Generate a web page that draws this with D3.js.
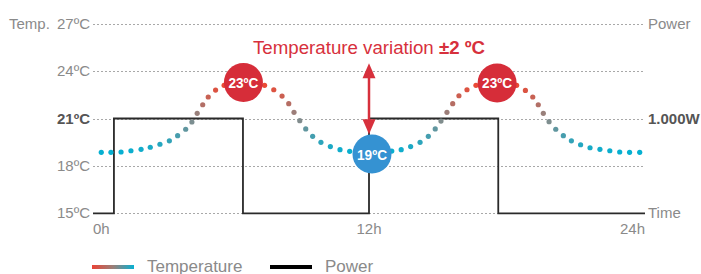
<!DOCTYPE html>
<meta charset="utf-8" />
<script src="https://d3js.org/d3.v7.js"></script>
<style>
	body { margin: 0; background: #fff; }
	svg { font-family: "Liberation Sans", Arial, sans-serif; display: block; }
</style>
<div id="chart"></div>
<script>
	// temperature dots (hour, ºC)
	const dotHours = [0.36, 0.78, 1.22, 1.65, 2.09, 2.49, 2.91, 3.32, 3.68, 4.03, 4.30, 4.53, 4.77, 5.01, 5.33, 5.70,
		7.46, 7.86, 8.22, 8.51, 8.74, 8.99, 9.25, 9.55, 9.91, 10.32, 10.74, 11.16,
		12.99, 13.40, 13.81, 14.22, 14.58, 14.88, 15.13, 15.39, 15.64, 15.91, 16.26, 16.65,
		18.42, 18.80, 19.12, 19.36, 19.58, 19.83, 20.12, 20.45, 20.80, 21.20, 21.61, 22.04, 22.47, 22.90, 23.33, 23.77];
	const dotTemps = [18.86, 18.86, 18.88, 18.96, 19.05, 19.18, 19.37, 19.59, 19.91, 20.32, 20.78, 21.33, 21.87, 22.36, 22.80, 23.10,
		23.10, 22.82, 22.42, 21.94, 21.39, 20.86, 20.34, 19.87, 19.49, 19.22, 19.03, 18.92,
		18.94, 19.03, 19.22, 19.49, 19.87, 20.34, 20.84, 21.39, 21.94, 22.44, 22.82, 23.10,
		23.10, 22.78, 22.36, 21.87, 21.33, 20.80, 20.32, 19.91, 19.59, 19.34, 19.15, 19.05, 18.96, 18.88, 18.86, 18.86];

	// power step line
	const powerHours = [0, 0.91, 6.52, 12, 17.62, 24];
	const powerWatts = [0, 1000, 0, 1000, 0, 0];

	// badges
	const badgeHours = [6.54, 12.13, 17.57];
	const badgeTemps = [23.28, 18.75, 23.25];
	const badgeLabels = ["23ºC", "19ºC", "23ºC"];
	const badgeColors = ["#d62d39", "#3592d2", "#d62d39"];

	// arrow
	const arrowHour = 12;
	const arrowTemps = [20.0, 24.5];

	// axes
	const tempTicks = [15, 18, 21, 24, 27];
	const tempTickLabels = ["15ºC", "18ºC", "21ºC", "24ºC", "27ºC"];
	const hourTicks = [0, 12, 24];
	const hourTickLabels = ["0h", "12h", "24h"];
	const powerTicks = [0, 1000, 2000];
	const powerTickLabels = ["Time", "1.000W", "Power"];

	const W = 701, H = 274;
	const svg = d3.select("#chart").append("svg").attr("width", W).attr("height", H);

	const x = d3.scaleLinear().domain([0, 24]).range([93, 645]);
	const y = d3.scaleLinear().domain([15, 27]).range([213.3, 23.7]);
	const yp = d3.scaleLinear().domain([0, 2000]).range([213.3, 23.7]);
	const color = d3.scaleLinear().domain([18.9, 21, 23.1])
		.range(["#08afd0", "#8a8a88", "#ea4a36"]).interpolate(d3.interpolateRgb);

	// gridlines
	svg.append("g").selectAll("line").data(tempTicks).enter().append("line")
		.attr("x1", x(0)).attr("x2", x(24))
		.attr("y1", d => Math.round(y(d)) + 0.5).attr("y2", d => Math.round(y(d)) + 0.5)
		.attr("stroke", "#a8a8a8").attr("stroke-dasharray", "2,2");

	// left temp labels
	svg.append("g").selectAll("text").data(tempTicks).enter().append("text")
		.attr("x", 90).attr("y", d => y(d) + 5)
		.attr("text-anchor", "end")
		.attr("font-size", 15)
		.attr("font-weight", d => d === 21 ? "bold" : "normal")
		.attr("fill", d => d === 21 ? "#555" : "#8a8a8a")
		.text((d, i) => tempTickLabels[i]);
	svg.append("text").attr("x", 9).attr("y", y(27) + 5).attr("font-size", 15)
		.attr("fill", "#8a8a8a").text("Temp.");

	// right power labels
	svg.append("g").selectAll("text").data(powerTicks).enter().append("text")
		.attr("x", 648).attr("y", d => yp(d) + 5)
		.attr("font-size", 15)
		.attr("font-weight", d => d === 1000 ? "bold" : "normal")
		.attr("fill", d => d === 1000 ? "#555" : "#8a8a8a")
		.text((d, i) => powerTickLabels[i]);

	// hour labels
	svg.append("g").selectAll("text").data(hourTicks).enter().append("text")
		.attr("x", d => x(d)).attr("y", 234)
		.attr("text-anchor", (d, i) => i === 0 ? "start" : (i === hourTicks.length - 1 ? "end" : "middle"))
		.attr("font-size", 15).attr("fill", "#8a8a8a")
		.text((d, i) => hourTickLabels[i]);

	// power step line
	const power = powerHours.map((h, i) => [h, powerWatts[i]]);
	svg.append("path").datum(power)
		.attr("d", d3.line().x(d => x(d[0])).y(d => yp(d[1])).curve(d3.curveStepAfter))
		.attr("fill", "none").attr("stroke", "#2a2a2a").attr("stroke-width", 1.8);

	// title
	const title = svg.append("text").attr("x", 253).attr("y", 54)
		.attr("font-size", 18.7).attr("fill", "#d7303c");
	title.append("tspan").text("Temperature variation ");
	title.append("tspan").attr("font-weight", "bold").text("±2 ºC");

	// arrow
	const ax = x(arrowHour), ay1 = y(arrowTemps[1]), ay2 = y(arrowTemps[0]);
	const arrowColor = "#d7303c";
	svg.append("line").attr("x1", ax).attr("x2", ax).attr("y1", ay1 + 8).attr("y2", ay2 - 8)
		.attr("stroke", arrowColor).attr("stroke-width", 2.5);
	svg.append("path").attr("d", `M${ax},${ay1} L${ax - 6.5},${ay1 + 15} L${ax + 6.5},${ay1 + 15} Z`).attr("fill", arrowColor);
	svg.append("path").attr("d", `M${ax},${ay2} L${ax - 6.5},${ay2 - 15} L${ax + 6.5},${ay2 - 15} Z`).attr("fill", arrowColor);

	// temperature dots
	svg.append("g").selectAll("circle").data(dotHours).enter().append("circle")
		.attr("cx", d => x(d)).attr("cy", (d, i) => y(dotTemps[i]))
		.attr("r", 2.6).attr("fill", (d, i) => color(dotTemps[i]));

	// badges
	const badge = svg.append("g").selectAll("g").data(badgeHours).enter().append("g")
		.attr("transform", (d, i) => `translate(${x(d)},${y(badgeTemps[i])})`);
	badge.append("circle").attr("r", 19.5).attr("fill", (d, i) => badgeColors[i]);
	badge.append("text").attr("y", 5.5).attr("text-anchor", "middle")
		.attr("font-size", 15).attr("font-weight", "bold").attr("fill", "#fff")
		.attr("textLength", 30).attr("lengthAdjust", "spacingAndGlyphs")
		.text((d, i) => badgeLabels[i]);

	// legend
	const defs = svg.append("defs");
	const grad = defs.append("linearGradient").attr("id", "tgrad");
	grad.append("stop").attr("offset", "0%").attr("stop-color", "#ea4336");
	grad.append("stop").attr("offset", "50%").attr("stop-color", "#9a7f78");
	grad.append("stop").attr("offset", "100%").attr("stop-color", "#08b0d2");
	svg.append("rect").attr("x", 92).attr("y", 265).attr("width", 42).attr("height", 4).attr("fill", "url(#tgrad)");
	svg.append("text").attr("x", 147).attr("y", 272).attr("font-size", 17).attr("fill", "#8a8a8a").text("Temperature");
	svg.append("rect").attr("x", 270).attr("y", 265).attr("width", 42).attr("height", 4).attr("fill", "#000");
	svg.append("text").attr("x", 325).attr("y", 272).attr("font-size", 17).attr("fill", "#8a8a8a").text("Power");
</script>
